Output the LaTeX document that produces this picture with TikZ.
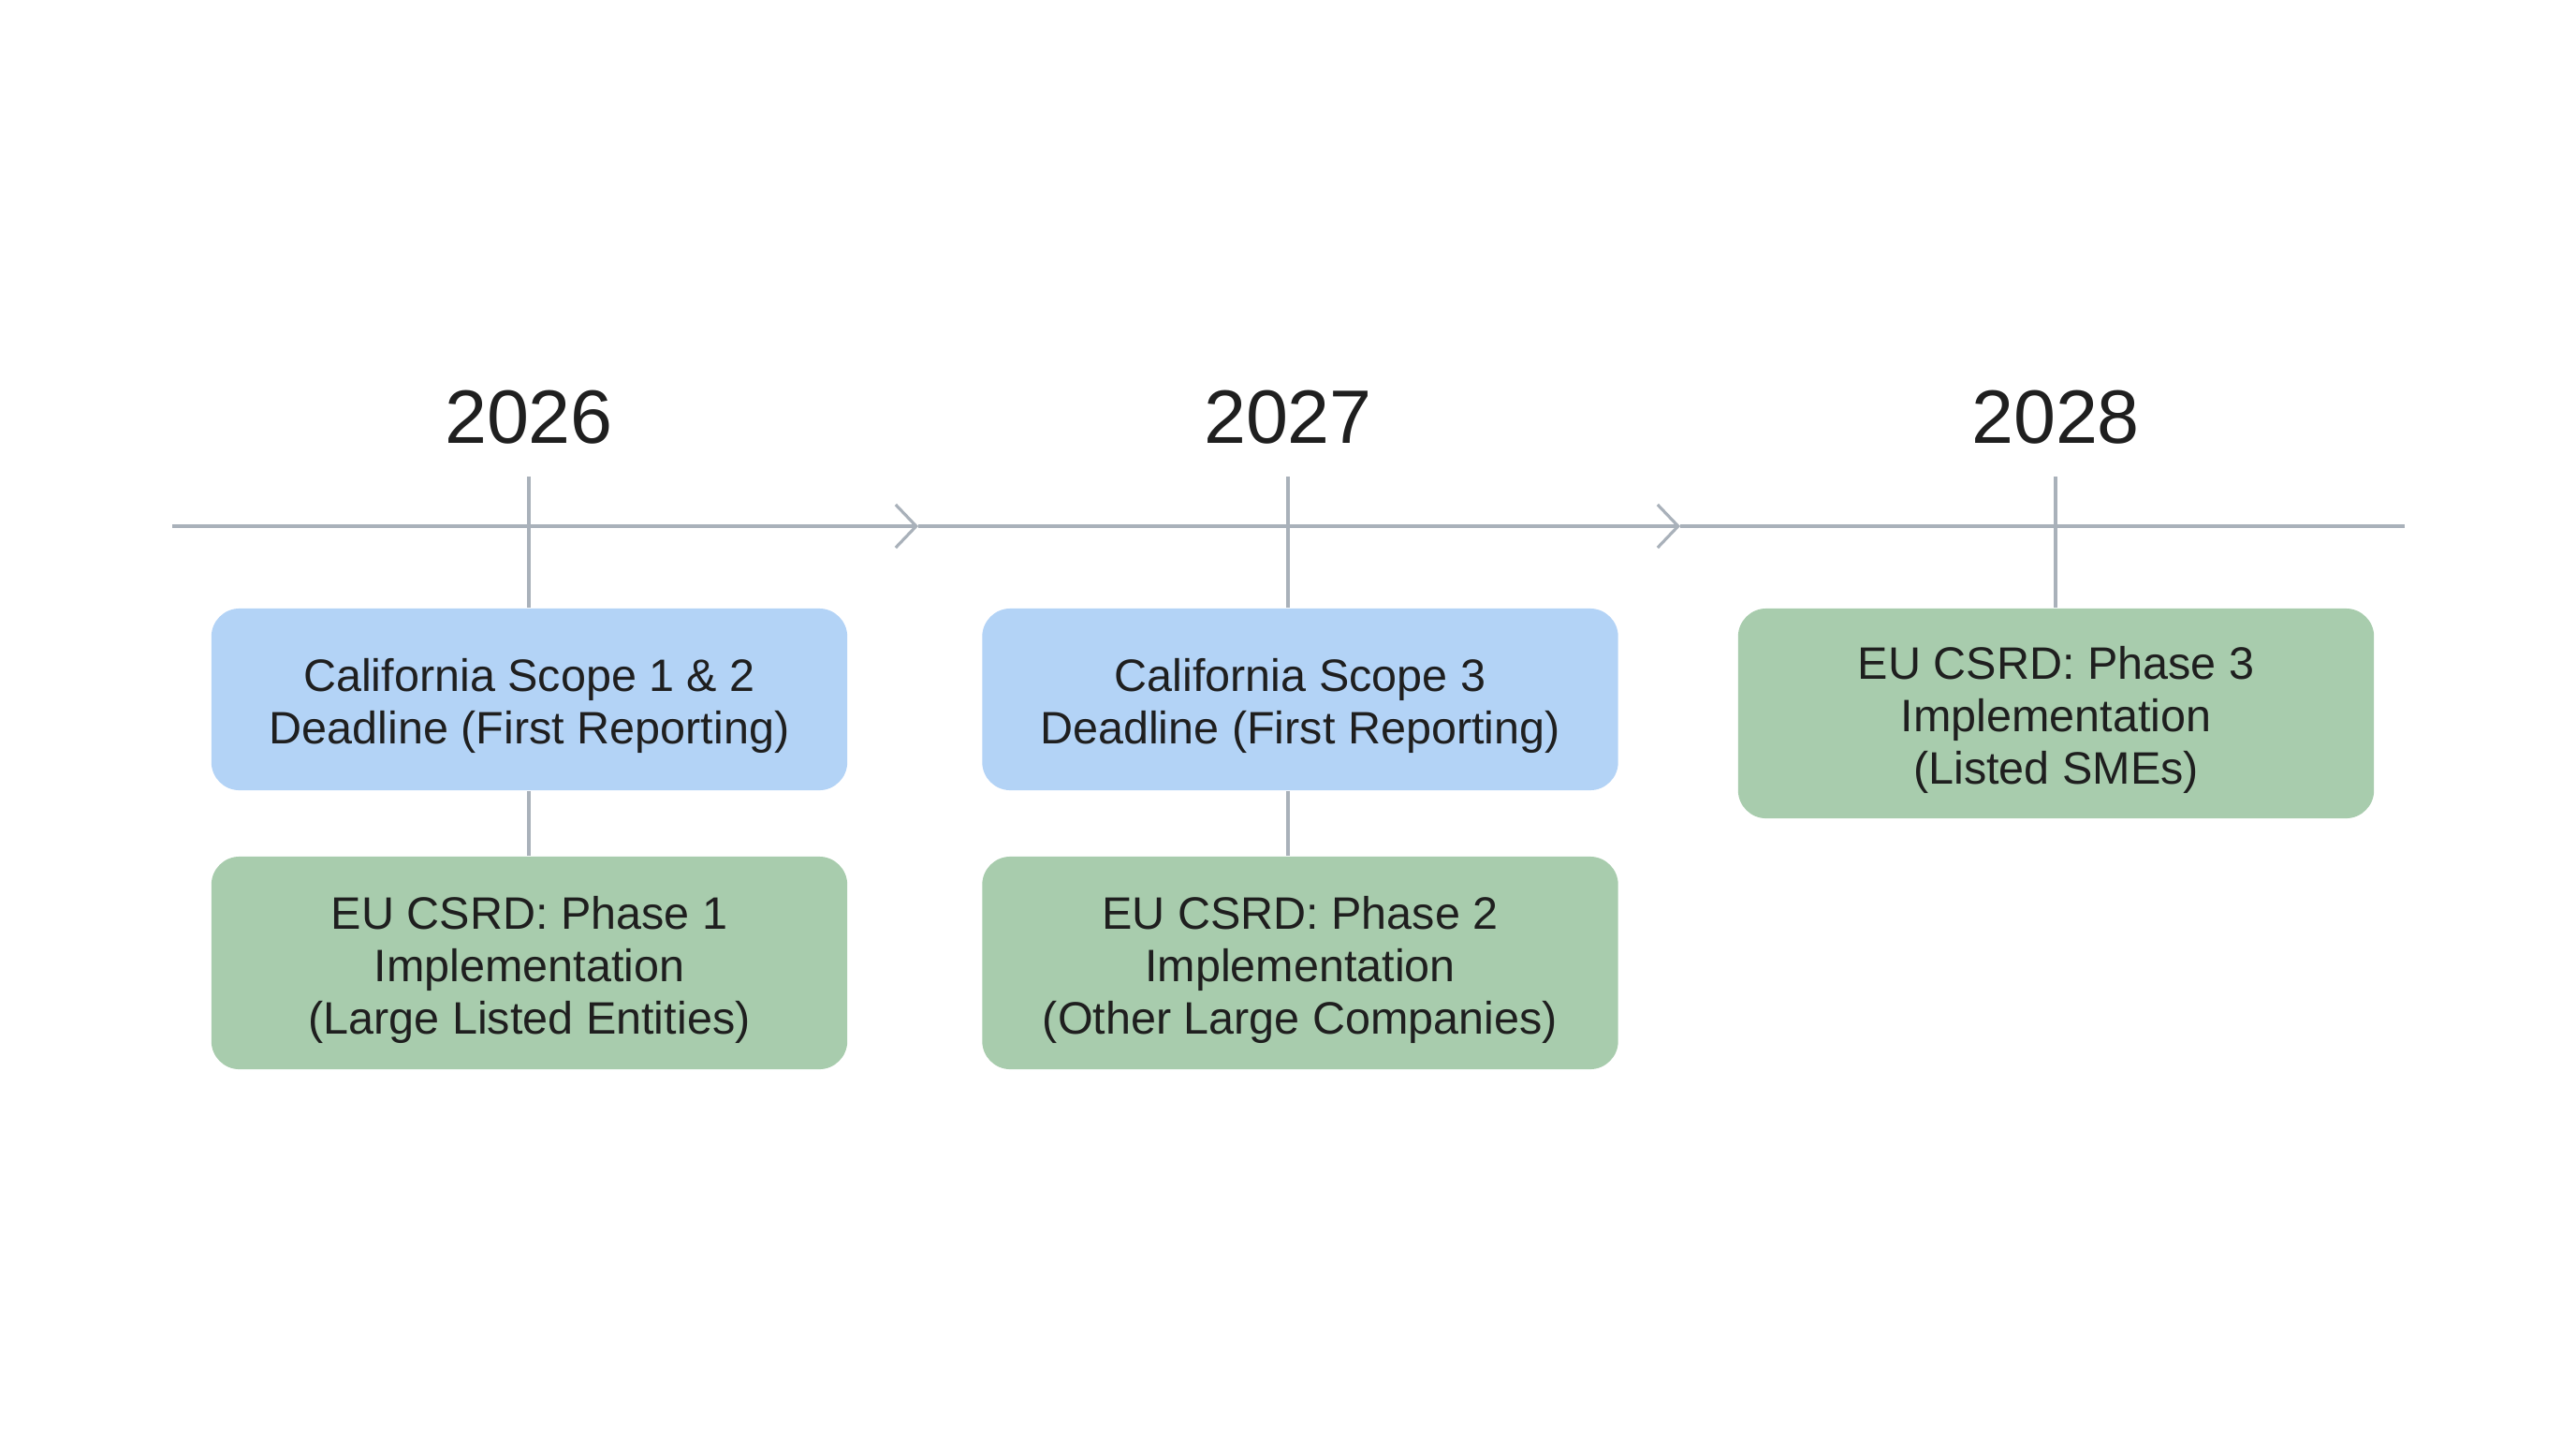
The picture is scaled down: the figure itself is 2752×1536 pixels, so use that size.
\documentclass[tikz,border=0pt]{standalone}
\usepackage{fontspec}
\setmainfont{Liberation Sans}
\usepackage{tikz}
\usetikzlibrary{arrows.meta}

\definecolor{axisgray}{HTML}{A9B1BA}
\definecolor{calblue}{HTML}{B3D3F6}
\definecolor{eugreen}{HTML}{A8CCAD}
\definecolor{inkdark}{HTML}{1F1F1F}

\begin{document}
\begin{tikzpicture}[x=0.01cm, y=-0.01cm,
	yearlabel/.style={anchor=base, text=inkdark, font=\fontsize{23}{27}\selectfont},
	eventbox/.style={rounded corners=3mm, minimum width=6.79cm, align=center, text=inkdark,
		font=\fontsize{13.8}{15.9}\selectfont},
	axisline/.style={draw=axisgray, line width=0.9pt},
	midtip/.style={-{Straight Barb[length=2.2mm, width=4.6mm]}}]

	\useasboundingbox (0,0) rectangle (2752,1536);

	% axis
	\coordinate (axL) at (184, 562);
	\coordinate (m1)  at (981, 562);
	\coordinate (m2)  at (1795, 562);
	\coordinate (axR) at (2569, 562);

	\draw[axisline, midtip] (axL) -- (m1);
	\draw[axisline, midtip] (m1) -- (m2);
	\draw[axisline] (m2) -- (axR);

	% years
	\node[yearlabel] (y26) at (565, 473)  {2026};
	\node[yearlabel] (y27) at (1376, 473) {2027};
	\node[yearlabel] (y28) at (2196, 473) {2028};

	\coordinate (t26) at (565, 509);
	\coordinate (t27) at (1376, 509);
	\coordinate (t28) at (2196, 509);

	% boxes
	\node[eventbox, fill=calblue, minimum height=1.94cm] (ca12) at (565.5, 747)
		{\rule{0pt}{14pt}California Scope 1 \& 2\\Deadline (First Reporting)};
	\node[eventbox, fill=eugreen, minimum height=2.27cm] (csrd1) at (565.5, 1028.5)
		{\rule{0pt}{14pt}EU CSRD: Phase 1\\Implementation\\(Large Listed Entities)};

	\node[eventbox, fill=calblue, minimum height=1.94cm] (ca3) at (1389, 747)
		{\rule{0pt}{14pt}California Scope 3\\Deadline (First Reporting)};
	\node[eventbox, fill=eugreen, minimum height=2.27cm] (csrd2) at (1389, 1028.5)
		{\rule{0pt}{14pt}EU CSRD: Phase 2\\Implementation\\(Other Large Companies)};

	\node[eventbox, fill=eugreen, minimum height=2.24cm] (csrd3) at (2196.5, 762)
		{\rule{0pt}{14pt}EU CSRD: Phase 3\\Implementation\\(Listed SMEs)};

	% ticks and links
	\path[axisline] (t26) edge (ca12.north -| t26);
	\path[axisline] (t27) edge (ca3.north -| t27);
	\path[axisline] (t28) edge (csrd3.north -| t28);
	\path[axisline] (ca12.south -| t26) edge (csrd1.north -| t26);
	\path[axisline] (ca3.south -| t27) edge (csrd2.north -| t27);

\end{tikzpicture}
\end{document}
